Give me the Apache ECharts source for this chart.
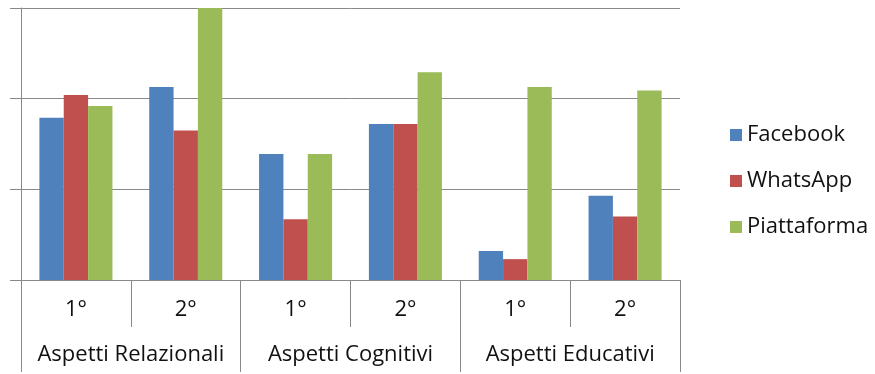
<!DOCTYPE html>
<html>
<head>
<meta charset="utf-8">
<script src="https://cdn.jsdelivr.net/npm/echarts@6/dist/echarts.min.js"></script>
<style>
  html, body { margin: 0; padding: 0; background: #ffffff; }
  #chart { width: 875px; height: 374px; }
</style>
</head>
<body>
<div id="chart"></div>
<script>
// Sub-categories (rounds) and their parent groups
const rounds = ['1°', '2°', '1°', '2°', '1°', '2°'];
const groups = ['Aspetti Relazionali', 'Aspetti Cognitivi', 'Aspetti Educativi'];

// Series values, one per round
const facebook    = [17.9, 21.3, 13.9, 17.2, 3.2, 9.3];
const whatsapp    = [20.4, 16.5, 6.7, 17.2, 2.3, 7.0];
const piattaforma = [19.2, 30.0, 13.9, 22.9, 21.3, 20.9];

const seriesNames = ['Facebook', 'WhatsApp', 'Piattaforma'];
const colors = ['#4F81BD', '#C0504D', '#9BBB59'];

const lineColor = '#898989';
const textColor = '#111111';
const fontFamily = '"Open Sans", "Liberation Sans", sans-serif';

const chart = echarts.init(document.getElementById('chart'), null, { renderer: 'canvas' });

chart.setOption({
  animation: false,
  backgroundColor: '#ffffff',
  color: colors,
  grid: { left: 21, right: 195, top: 8, bottom: 94, containLabel: false },
  legend: {
    orient: 'vertical',
    left: 725,
    top: 118,
    itemWidth: 12,
    itemHeight: 12,
    itemGap: 22,
    icon: 'rect',
    textStyle: { fontFamily, fontSize: 22, color: textColor, lineHeight: 24 },
    data: seriesNames
  },
  xAxis: [
    {
      type: 'category',
      data: rounds,
      position: 'bottom',
      boundaryGap: true,
      axisLine: { show: true, lineStyle: { color: lineColor, width: 1 } },
      axisTick: { show: true, interval: 0, length: 47, lineStyle: { color: lineColor, width: 1 } },
      axisLabel: { interval: 0, margin: 18, fontFamily, fontSize: 22, lineHeight: 24, color: textColor }
    },
    {
      type: 'category',
      data: groups,
      position: 'bottom',
      boundaryGap: true,
      axisLine: { show: false },
      axisTick: { show: true, interval: 0, length: 92, lineStyle: { color: lineColor, width: 1 } },
      axisLabel: { interval: 0, margin: 63, fontFamily, fontSize: 22, lineHeight: 24, color: textColor }
    }
  ],
  yAxis: {
    type: 'value',
    min: 0,
    max: 30,
    interval: 10,
    axisLine: { show: true, lineStyle: { color: lineColor, width: 1 } },
    axisTick: { show: true, length: 11, lineStyle: { color: lineColor, width: 1 } },
    axisLabel: { show: false },
    splitLine: { show: true, lineStyle: { color: lineColor, width: 1 } }
  },
  series: [facebook, whatsapp, piattaforma].map((values, i) => ({
    name: seriesNames[i],
    type: 'bar',
    xAxisIndex: 0,
    data: values,
    barGap: '0%',
    barCategoryGap: '33.5%',
    itemStyle: { color: colors[i] }
  }))
});
</script>
</body>
</html>
